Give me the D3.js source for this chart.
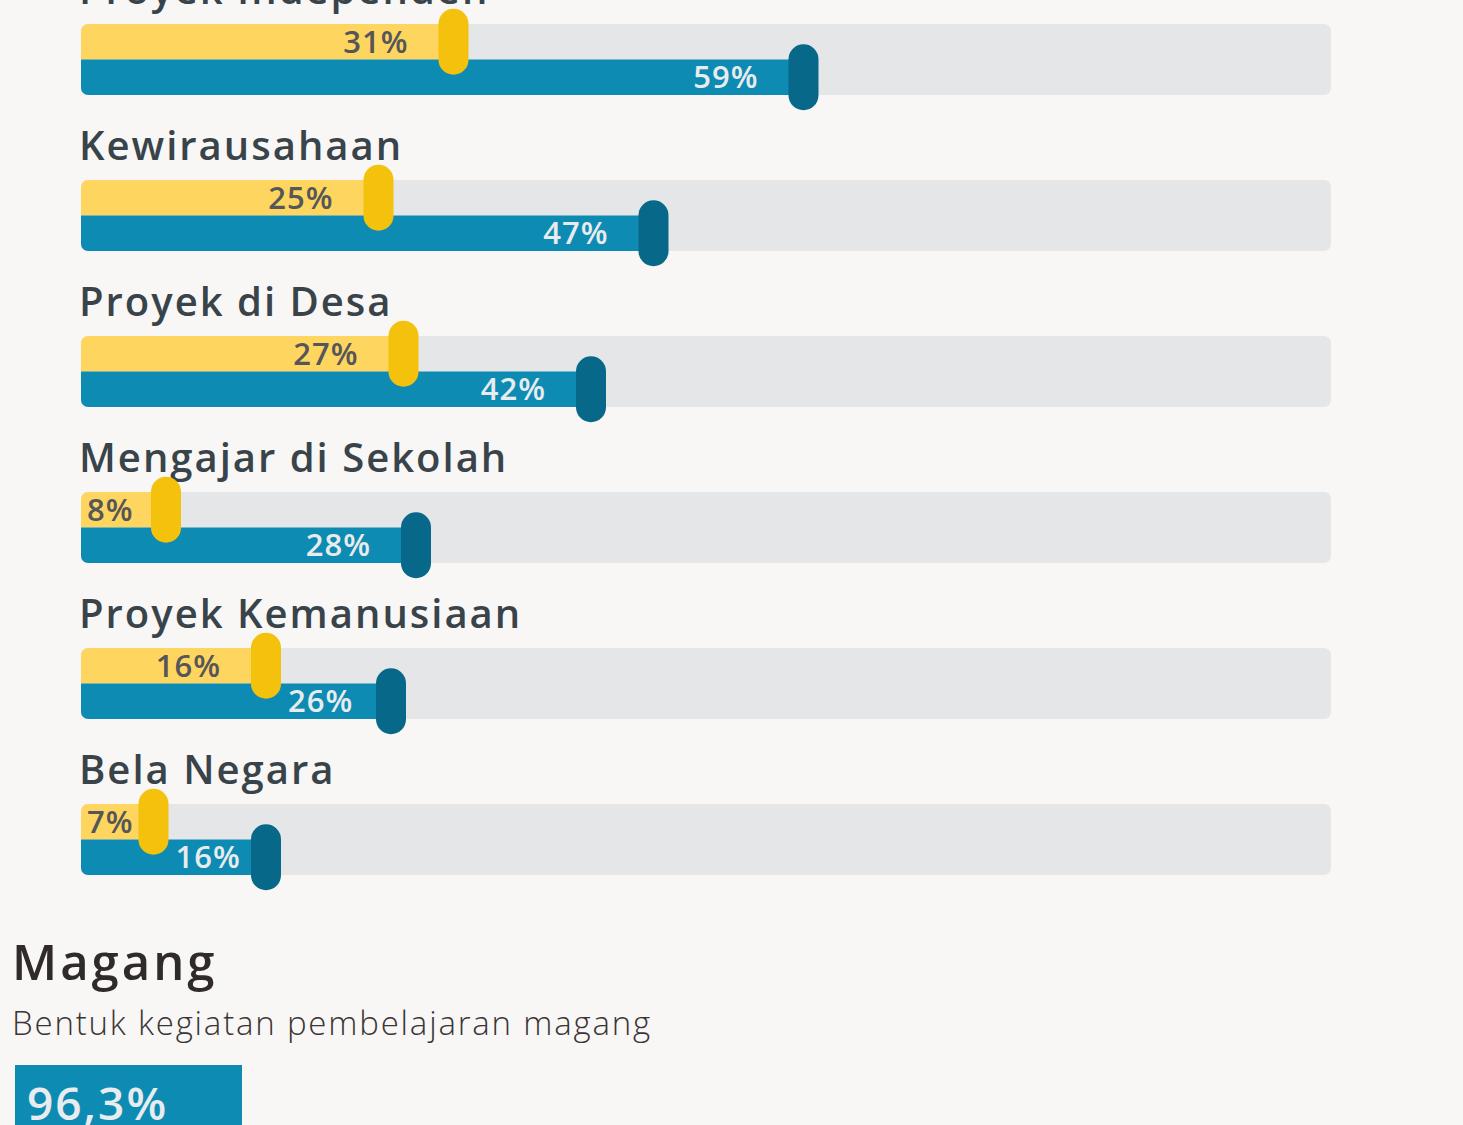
<!DOCTYPE html>
<html>
<head>
<meta charset="utf-8">
<script src="https://cdn.jsdelivr.net/npm/d3@7"></script>
<style>
  body { margin: 0; background: #f8f7f5; overflow: hidden; }
  svg { display: block; }
</style>
</head>
<body>
<div id="chart"></div>
<script>
// categories and values (percent)
var categories = ["Proyek Independen", "Kewirausahaan", "Proyek di Desa", "Mengajar di Sekolah", "Proyek Kemanusiaan", "Bela Negara"];
var yellowValues = [31, 25, 27, 8, 16, 7];
var blueValues = [59, 47, 42, 28, 26, 16];

var magangTitle = "Magang";
var magangSub = "Bentuk kegiatan pembelajaran magang";
var magangValue = "96,3%";

var width = 1463, height = 1125;
var font = "'Open Sans', sans-serif";

var svg = d3.select("#chart").append("svg")
    .attr("width", width)
    .attr("height", height);

// x scale: 0-100% across the track
var x = d3.scaleLinear()
    .domain([0, 100])
    .range([81, 1331]);

// rows: top of each track
var y = d3.scalePoint()
    .domain(categories)
    .range([24, 804]);

var trackH = 71, half = 35.5, handleW = 30, handleH = 66;

var rows = svg.append("g")
    .selectAll("g")
    .data(categories)
    .enter()
    .append("g")
    .attr("transform", function (d) { return "translate(0," + y(d) + ")"; });

// label
rows.append("text")
    .attr("x", 79)
    .attr("y", -20)
    .style("font-family", font)
    .style("font-weight", 600)
    .style("font-size", "40px")
    .style("letter-spacing", "2px")
    .attr("fill", "#39434a")
    .text(function (d) { return d; });

// clip for rounded track
rows.append("clipPath")
    .attr("id", function (d, i) { return "clip" + i; })
    .append("rect")
    .attr("x", x(0))
    .attr("width", x(100) - x(0))
    .attr("height", trackH)
    .attr("rx", 7);

// track background
rows.append("rect")
    .attr("x", x(0))
    .attr("width", x(100) - x(0))
    .attr("height", trackH)
    .attr("rx", 7)
    .attr("fill", "#e5e6e8");

var bars = rows.append("g")
    .attr("clip-path", function (d, i) { return "url(#clip" + i + ")"; });

// yellow bar (top half)
bars.append("rect")
    .attr("x", x(0))
    .attr("y", 0)
    .attr("height", half)
    .attr("width", function (d, i) { return x(yellowValues[i]) - x(0) - handleW / 2; })
    .attr("fill", "#fdd55f");

// blue bar (bottom half)
bars.append("rect")
    .attr("x", x(0))
    .attr("y", half)
    .attr("height", trackH - half)
    .attr("width", function (d, i) { return x(blueValues[i]) - x(0) - handleW / 2; })
    .attr("fill", "#0e8bb2");

// percent labels, end 30px before the handle, but never before a given start
function placeLabels(sel, values, minStart) {
    sel.each(function (d, i) {
        var w = this.getComputedTextLength();
        var end = x(values[i]) - handleW - 30;
        d3.select(this).attr("x", Math.max(end, minStart(i) + w));
    });
}

var yLab = rows.append("text")
    .attr("y", half / 2 + 11)
    .attr("text-anchor", "end")
    .style("font-family", font)
    .style("font-weight", 600)
    .style("font-size", "31px")
    .style("letter-spacing", "1px")
    .attr("fill", "#555659")
    .text(function (d, i) { return yellowValues[i] + "%"; });
placeLabels(yLab, yellowValues, function () { return x(0) + 6; });

var bLab = rows.append("text")
    .attr("y", half + half / 2 + 11)
    .attr("text-anchor", "end")
    .style("font-family", font)
    .style("font-weight", 600)
    .style("font-size", "31px")
    .style("letter-spacing", "1px")
    .attr("fill", "#e9ecee")
    .text(function (d, i) { return blueValues[i] + "%"; });
// keep blue labels clear of the yellow handle above
placeLabels(bLab, blueValues, function (i) { return x(yellowValues[i]) + 7; });

// handles
rows.append("rect")
    .attr("x", function (d, i) { return x(yellowValues[i]) - handleW; })
    .attr("y", half / 2 - handleH / 2)
    .attr("width", handleW)
    .attr("height", handleH)
    .attr("rx", handleW / 2)
    .attr("fill", "#f4c10c");

rows.append("rect")
    .attr("x", function (d, i) { return x(blueValues[i]) - handleW; })
    .attr("y", half + half / 2 - handleH / 2)
    .attr("width", handleW)
    .attr("height", handleH)
    .attr("rx", handleW / 2)
    .attr("fill", "#08688a");

// Magang section
svg.append("text")
    .attr("x", 12)
    .attr("y", 980)
    .style("font-family", font)
    .style("font-weight", 600)
    .style("font-size", "49px")
    .style("letter-spacing", "3px")
    .attr("fill", "#302a2a")
    .text(magangTitle);

svg.append("text")
    .attr("x", 12)
    .attr("y", 1035)
    .style("font-family", font)
    .style("font-weight", 300)
    .style("font-size", "33px")
    .style("letter-spacing", "1.8px")
    .attr("fill", "#3a3535")
    .text(magangSub);

svg.append("rect")
    .attr("x", 15)
    .attr("y", 1065)
    .attr("width", 227)
    .attr("height", 80)
    .attr("fill", "#0e8bb2");

svg.append("text")
    .attr("x", 27)
    .attr("y", 1120)
    .style("font-family", font)
    .style("font-weight", 600)
    .style("font-size", "46px")
    .style("letter-spacing", "2px")
    .attr("fill", "#e8ecef")
    .text(magangValue);
</script>
</body>
</html>
